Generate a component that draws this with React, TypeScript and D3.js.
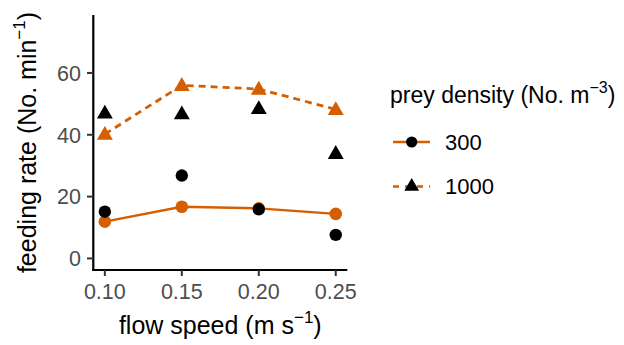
import React from "react";
import * as d3 from "d3";

const flowSpeeds = [0.1, 0.15, 0.2, 0.25];
const xTicks = [0.1, 0.15, 0.2, 0.25];
const yTicks = [0, 20, 40, 60];
const model300 = [11.9, 16.7, 16.2, 14.4];
const observed300 = [15.1, 26.8, 15.9, 7.6];
const model1000 = [40.2, 56.0, 54.8, 48.2];
const observed1000 = [47.1, 46.8, 48.5, 34.0];
const legendLabels = ["300", "1000"];

const ORANGE = "#D55E00";
const FONT = "'Liberation Sans', Arial, Helvetica, sans-serif";

const W = 624;
const H = 345;

export default function App() {
  const x = d3.scaleLinear().domain([0.0925, 0.2575]).range([93.3, 347.3]);
  const y = d3.scaleLinear().domain([-3.75, 78.75]).range([270, 15]);

  const line = d3
    .line<number>()
    .x((_, i) => x(flowSpeeds[i]))
    .y((d) => y(d));

  const tri = d3.symbol().type(d3.symbolTriangle).size(110)() as string;
  const triLegend = d3.symbol().type(d3.symbolTriangle).size(95)() as string;

  const triangleAt = (cx: number, cy: number, fill: string, path = tri) => (
    <path d={path} transform={`translate(${cx},${cy + 1})`} fill={fill} />
  );

  const fmt = d3.format(".2f");

  return (
    <svg width={W} height={H} style={{ position: "absolute", left: 0, top: 0, background: "#fff" }} fontFamily={FONT}>
      {/* lines */}
      <path d={line(model300) as string} fill="none" stroke={ORANGE} strokeWidth={2.4} />
      <path d={line(model1000) as string} fill="none" stroke={ORANGE} strokeWidth={2.8} strokeDasharray="7,5" />

      {/* model points */}
      {model300.map((v, i) => (
        <circle key={"m3" + i} cx={x(flowSpeeds[i])} cy={y(v)} r={6.3} fill={ORANGE} />
      ))}
      {model1000.map((v, i) => (
        <g key={"m1" + i}>{triangleAt(x(flowSpeeds[i]), y(v), ORANGE)}</g>
      ))}

      {/* observed points */}
      {observed300.map((v, i) => (
        <circle key={"o3" + i} cx={x(flowSpeeds[i])} cy={y(v)} r={6.2} fill="#000" />
      ))}
      {observed1000.map((v, i) => (
        <g key={"o1" + i}>{triangleAt(x(flowSpeeds[i]), y(v), "#000")}</g>
      ))}

      {/* axes */}
      <line x1={93.3} x2={93.3} y1={15} y2={271} stroke="#000" strokeWidth={2.2} />
      <line x1={92.2} x2={347.3} y1={270} y2={270} stroke="#000" strokeWidth={2.2} />
      {yTicks.map((t) => (
        <g key={"yt" + t}>
          <line x1={87} x2={93.3} y1={y(t)} y2={y(t)} stroke="#333" strokeWidth={2} />
          <text x={81} y={y(t)} dy="0.36em" textAnchor="end" fontSize={21.5} fill="#4D4D4D">
            {t}
          </text>
        </g>
      ))}
      {xTicks.map((t) => (
        <g key={"xt" + t}>
          <line x1={x(t)} x2={x(t)} y1={270} y2={276} stroke="#333" strokeWidth={2} />
          <text x={x(t)} y={299} textAnchor="middle" fontSize={21.5} fill="#4D4D4D">
            {fmt(t)}
          </text>
        </g>
      ))}

      {/* axis titles */}
      <text x={220.3} y={334} textAnchor="middle" fontSize={25} fill="#000">
        flow speed (m s
        <tspan fontSize={17} dy="-0.65em">−1</tspan>
        <tspan dy="0.44em">)</tspan>
      </text>
      <text transform="translate(36,142.5) rotate(-90)" textAnchor="middle" fontSize={25} fill="#000">
        feeding rate (No. min
        <tspan fontSize={17} dy="-0.65em">−1</tspan>
        <tspan dy="0.44em">)</tspan>
      </text>

      {/* legend */}
      <text x={390} y={103} fontSize={23} fill="#000">
        prey density (No. m
        <tspan fontSize={16} dy="-0.65em">−3</tspan>
        <tspan dy="0.45em">)</tspan>
      </text>
      <g>
        <line x1={393} x2={430} y1={142} y2={142} stroke={ORANGE} strokeWidth={2.4} />
        <circle cx={411.7} cy={142} r={5.6} fill="#000" />
        <text x={445} y={142} dy="0.36em" fontSize={22} fill="#000">
          {legendLabels[0]}
        </text>
      </g>
      <g>
        <line x1={393} x2={430} y1={186.5} y2={186.5} stroke={ORANGE} strokeWidth={2.6} strokeDasharray="6,6" />
        {triangleAt(411.7, 185.5, "#000", triLegend)}
        <text x={445} y={186.5} dy="0.36em" fontSize={22} fill="#000">
          {legendLabels[1]}
        </text>
      </g>
    </svg>
  );
}
